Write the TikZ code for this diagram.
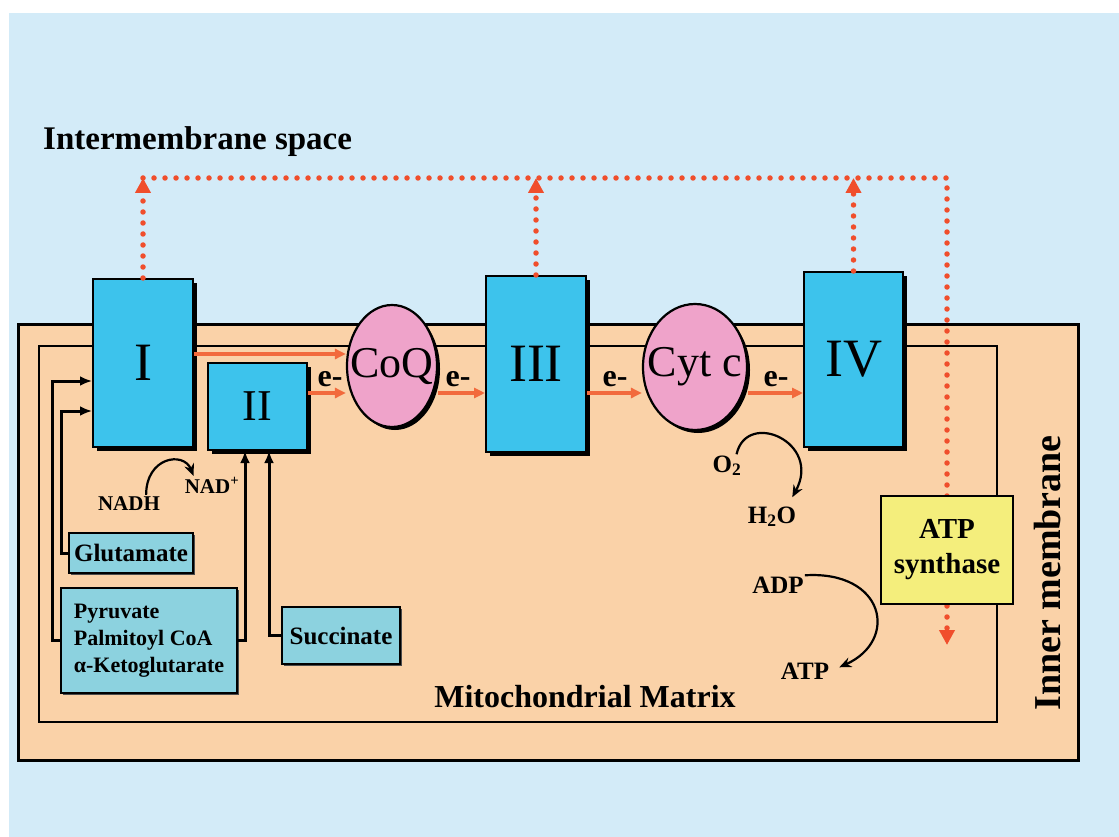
\documentclass[tikz,border=0pt]{standalone}
\usepackage{fontspec}
\setmainfont{Liberation Serif}
\usetikzlibrary{positioning,shapes.geometric,shadows,arrows.meta}

\definecolor{bgblue}{HTML}{D3EBF8}
\definecolor{peach}{HTML}{FAD2A8}
\definecolor{cplxblue}{HTML}{3DC3EC}
\definecolor{qpink}{HTML}{EFA3CA}
\definecolor{subblue}{HTML}{8CD2DF}
\definecolor{synyellow}{HTML}{F4EE7C}
\definecolor{pumpred}{HTML}{F04E2C}
\definecolor{eorange}{HTML}{F26A3C}

\begin{document}
\begin{tikzpicture}[
    x=1pt, y=-1pt,
    cplx/.style={draw, line width=2pt, fill=cplxblue, inner sep=0pt,
      drop shadow={shadow xshift=4pt, shadow yshift=-4pt, fill=black, opacity=1},
      font=\fontsize{54}{60}\selectfont},
    carrier/.style={ellipse, draw, line width=2.2pt, fill=qpink, inner sep=0pt,
      drop shadow={shadow xshift=3pt, shadow yshift=-3pt, fill=black, opacity=1},
      font=\fontsize{44}{50}\selectfont},
    sub/.style={draw, line width=2pt, fill=subblue, inner sep=0pt,
      drop shadow={shadow xshift=1.5pt, shadow yshift=-1.5pt, fill=black!70, opacity=1},
      font=\fontsize{25}{30}\selectfont\bfseries},
    lbl/.style={inner sep=1pt, anchor=base, font=\fontsize{25}{29}\selectfont\bfseries},
    etxt/.style={inner sep=0pt, font=\fontsize{32}{36}\selectfont\bfseries},
    big/.style={inner sep=0pt, font=\fontsize{33}{38}\selectfont\bfseries},
    feed/.style={line width=3pt, -{Latex[length=12pt,width=10pt]}},
    react/.style={line width=2.2pt, -{Stealth[length=12pt,width=10pt]}},
    eflow/.style={eorange, line width=3.4pt, -{Triangle[length=11pt,width=10pt]}},
    pump/.style={pumpred, line width=5.5pt, line cap=round, dash pattern=on 0pt off 11pt},
    pumptip/.style={-{Triangle[length=15pt,width=15pt]}},
]
\useasboundingbox (0,0) rectangle (1119,837);
\fill[white] (0,0) rectangle (1119,837);
\fill[bgblue] (9,13) rectangle (1119,837);

% membranes
\draw[line width=3pt, fill=peach] (18,324) rectangle (1078,760);
\draw[line width=2.5pt] (39,346) rectangle (997,722);

% respiratory chain
\node[cplx, minimum width=100pt, minimum height=168pt] (c1) at (143,363) {I};
\node[cplx, minimum width=99pt, minimum height=87pt, font=\fontsize{44}{50}\selectfont] (c2) at (257.5,406.5) {II};
\node[carrier, minimum width=90pt, minimum height=122pt] (coq) at (392,366) {\makebox[0pt]{CoQ}};
\node[cplx, minimum width=100pt, minimum height=176pt] (c3) at (536,364) {III};
\node[carrier, minimum width=104pt, minimum height=126pt] (cytc) at (695,367) {\makebox[0pt]{Cyt c}};
\node[cplx, minimum width=99pt, minimum height=175pt] (c4) at (853.5,359.5) {IV};

% proton pumping
\coordinate (pumpturn) at (947,178);
\coordinate (hplus) at (947,645);
\draw[pump, pumptip] (c1.north |- pumpturn) -- (pumpturn) -- (hplus);
\foreach \c in {c1,c3,c4}
  \draw[pump, pumptip] (\c.north) -- (\c.north |- pumpturn);

\node[draw, line width=2pt, fill=synyellow, minimum width=132pt, minimum height=108pt,
  align=center, font=\fontsize{29}{35}\selectfont\bfseries] (atps) at (947,550) {ATP\\synthase};

% electrons
\draw[eflow] (c1.east |- 0,354) -- (coq.west |- 0,354);
\draw[eflow] (c2.east |- 0,393) -- (coq.west |- 0,393);
\draw[eflow] (coq.east |- 0,393) -- (c3.west |- 0,393);
\draw[eflow] (c3.east |- 0,393) -- (cytc.west |- 0,393);
\draw[eflow] (cytc.east |- 0,393) -- (c4.west |- 0,393);
\node[etxt] (e1) at (330,379) {e-};
\node[etxt] (e2) at (458,379) {e-};
\node[etxt] (e3) at (615,379) {e-};
\node[etxt] (e4) at (776,379) {e-};

% substrates
\node[sub, minimum width=124pt, minimum height=40pt] (glu) at (131,553) {Glutamate};
\node[sub, minimum width=176pt, minimum height=105pt, align=left,
  font=\fontsize{22}{27}\selectfont\bfseries] (pyr) at (149,640.5) {Pyruvate\\Palmitoyl CoA\\α-Ketoglutarate};
\node[sub, minimum width=118pt, minimum height=57pt] (suc) at (341,635.5) {Succinate};

\draw[feed] (pyr.west) -| (52,381) -- (c1.west |- 0,381);
\draw[feed] (glu.west) -| (61,411) -- (c1.west |- 0,411);
\draw[feed] (pyr.east) -| (c2.south -| 245,0);
\draw[feed] (suc.west) -| (c2.south -| 269,0);

% reactions
\node[lbl, font=\fontsize{21}{25}\selectfont\bfseries] (nadh) at (129,510) {NADH};
\node[lbl, font=\fontsize{21}{25}\selectfont\bfseries] (nadp) at (212,493) {NAD\textsuperscript{+}};
\node[lbl] (o2) at (727,472) {O\textsubscript{2}};
\node[lbl] (h2o) at (772,523) {H\textsubscript{2}O};
\node[lbl] (adp) at (778,593) {ADP};
\node[lbl] (atp) at (805,679) {ATP};
\draw[react] ([xshift=-15pt]nadh.north east) .. controls +(0,-38) and +(-10,-25) .. ([xshift=10pt]nadp.north west);
\draw[react] ([xshift=-6pt]o2.north east) .. controls +(10,-45) and +(30,-55) .. ([xshift=-5pt,yshift=8pt]h2o.north east);
\draw[react] (adp.north east) .. controls +(80,-5) and +(60,-27) .. ([xshift=9pt,yshift=-6pt]atp.north east);

% compartments
\node[big, anchor=base west] (ims) at (43,150) {Intermembrane space};
\node[big, anchor=base, font=\fontsize{32}{38}\selectfont\bfseries] (matrix) at (585,707) {Mitochondrial Matrix};
\node[big, rotate=90, anchor=base, font=\fontsize{38}{44}\selectfont\bfseries] (innerm) at (1060,573) {Inner membrane};
\end{tikzpicture}
\end{document}
